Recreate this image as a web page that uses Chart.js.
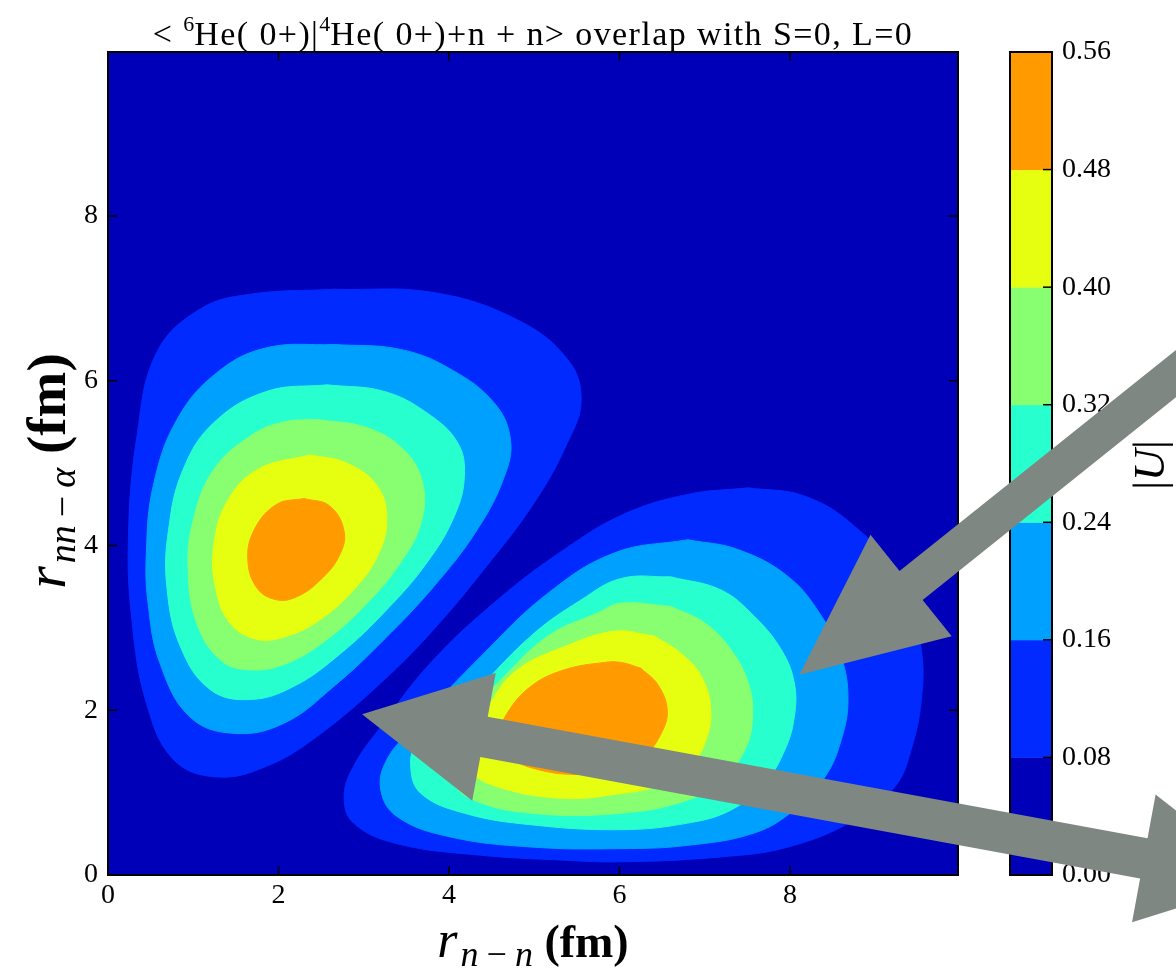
<!DOCTYPE html>
<html>
<head>
<meta charset="utf-8">
<script src="https://cdn.jsdelivr.net/npm/chart.js@4.4.1/dist/chart.umd.min.js"></script>
<style>
  html, body { margin: 0; padding: 0; background: #fff; }
</style>
</head>
<body>
<canvas id="myChart" width="1176" height="968"></canvas>
<script>
// contour levels of |U| and the jet colour of each filled band
const levels = [0.0, 0.08, 0.16, 0.24, 0.32, 0.4, 0.48, 0.56];
const bandColors = ["#0000b9", "#002aff", "#00a0ff", "#28ffcf", "#87ff70", "#e6ff11", "#ff9b00"];

const xTicks = [0, 2, 4, 6, 8];
const yTicks = [0, 2, 4, 6, 8];

// left lobe outlines [r_n-n, r_nn-alpha], one per level (0.08 ... 0.48)
const left08 = [[2.65, 7.11], [3.82, 7.07], [4.8, 6.74], [5.39, 6.26], [5.55, 5.77], [5.39, 5.25], [5.0, 4.52], [4.41, 3.71], [3.82, 2.98], [3.24, 2.37], [2.45, 1.68], [1.86, 1.32], [1.28, 1.19], [0.77, 1.4], [0.45, 2.09], [0.28, 3.1], [0.24, 4.11], [0.34, 5.33], [0.57, 6.34], [1.08, 6.87], [1.67, 7.05]];
const left16 = [[2.65, 6.44], [3.43, 6.38], [4.02, 6.14], [4.53, 5.73], [4.72, 5.29], [4.65, 4.84], [4.33, 4.19], [3.82, 3.5], [3.24, 2.86], [2.65, 2.29], [2.06, 1.84], [1.47, 1.72], [0.96, 1.92], [0.61, 2.57], [0.47, 3.3], [0.45, 3.91], [0.53, 4.72], [0.81, 5.53], [1.28, 6.1], [1.86, 6.4]];
const left24 = [[2.57, 5.95], [3.24, 5.87], [3.74, 5.61], [4.1, 5.25], [4.18, 4.84], [4.06, 4.35], [3.74, 3.79], [3.27, 3.22], [2.73, 2.69], [2.18, 2.29], [1.67, 2.13], [1.2, 2.25], [0.85, 2.77], [0.69, 3.5], [0.71, 4.19], [0.88, 4.92], [1.24, 5.49], [1.86, 5.87]];
const left32 = [[2.45, 5.53], [3.04, 5.43], [3.47, 5.16], [3.69, 4.76], [3.67, 4.27], [3.43, 3.79], [3.04, 3.3], [2.57, 2.86], [2.1, 2.57], [1.67, 2.49], [1.32, 2.61], [1.04, 3.06], [0.94, 3.71], [1.0, 4.31], [1.24, 4.92], [1.67, 5.33], [2.06, 5.5]];
const left40 = [[2.37, 5.1], [2.8, 5.0], [3.16, 4.72], [3.27, 4.31], [3.16, 3.87], [2.88, 3.46], [2.49, 3.1], [2.1, 2.9], [1.75, 2.86], [1.43, 3.06], [1.26, 3.5], [1.24, 3.99], [1.39, 4.52], [1.75, 4.92]];
const left48 = [[2.3, 4.57], [2.6, 4.48], [2.77, 4.17], [2.71, 3.87], [2.49, 3.58], [2.22, 3.38], [1.98, 3.34], [1.75, 3.48], [1.64, 3.83], [1.72, 4.2], [1.98, 4.5]];

// right lobe outlines
const right08 = [[7.51, 4.7], [8.17, 4.6], [8.76, 4.23], [9.35, 3.54], [9.54, 2.73], [9.54, 2.13], [9.42, 1.52], [9.23, 1.07], [8.76, 0.67], [7.98, 0.34], [7.19, 0.22], [6.02, 0.16], [5.35, 0.18], [4.37, 0.24], [3.39, 0.38], [2.88, 0.63], [2.77, 0.95], [2.88, 1.32], [3.2, 1.8], [3.78, 2.57], [4.57, 3.34], [5.35, 3.95], [6.05, 4.38], [6.8, 4.62]];
const right16 = [[6.8, 4.07], [7.39, 3.95], [7.98, 3.62], [8.37, 3.14], [8.6, 2.65], [8.68, 2.13], [8.6, 1.64], [8.41, 1.19], [8.05, 0.79], [7.58, 0.51], [6.8, 0.36], [6.02, 0.32], [4.96, 0.34], [3.98, 0.47], [3.39, 0.71], [3.2, 1.03], [3.27, 1.4], [3.59, 1.8], [4.37, 2.65], [5.16, 3.42], [5.94, 3.91]];
const right24 = [[6.6, 3.62], [7.19, 3.46], [7.58, 3.14], [7.9, 2.73], [8.05, 2.33], [8.05, 1.92], [7.94, 1.52], [7.7, 1.11], [7.31, 0.79], [6.8, 0.63], [6.02, 0.55], [4.96, 0.61], [4.18, 0.75], [3.67, 0.99], [3.55, 1.32], [3.63, 1.6], [4.18, 2.09], [4.96, 2.9], [5.55, 3.34], [6.02, 3.6]];
const right32 = [[6.6, 3.26], [7.0, 3.06], [7.31, 2.73], [7.51, 2.33], [7.56, 1.92], [7.47, 1.52], [7.19, 1.15], [6.8, 0.91], [6.02, 0.75], [4.96, 0.75], [4.29, 0.91], [4.02, 1.15], [3.9, 1.52], [4.18, 1.92], [4.57, 2.33], [5.16, 2.9], [5.74, 3.18], [6.02, 3.3]];
const right40 = [[6.41, 2.9], [6.72, 2.69], [6.96, 2.41], [7.07, 2.0], [7.0, 1.6], [6.8, 1.28], [6.41, 1.07], [6.02, 0.99], [5.35, 0.93], [4.57, 1.07], [4.25, 1.28], [4.29, 1.6], [4.49, 2.09], [4.8, 2.49], [5.35, 2.77], [5.94, 2.96]];
const right48 = [[6.25, 2.51], [6.45, 2.31], [6.56, 2.0], [6.49, 1.72], [6.29, 1.44], [6.02, 1.28], [5.55, 1.22], [5.04, 1.28], [4.72, 1.44], [4.61, 1.72], [4.68, 1.96], [4.96, 2.29], [5.35, 2.49], [5.82, 2.58], [6.02, 2.58]];

// [outline, band index]
const contours = [
  [left08, 1], [left16, 2], [left24, 3], [left32, 4], [left40, 5], [left48, 6],
  [right08, 1], [right16, 2], [right24, 3], [right32, 4], [right40, 5], [right48, 6],
];

// grey arrows drawn over the figure, [from, to] in plot units
const arrowOne = [[13.51, 6.9], [8.11, 2.43]];
const arrowTwo = [[13.58, -0.07], [2.98, 1.95]];

const serif = "'Liberation Serif', 'Times New Roman', serif";

const contourDatasets = contours.map(([pts, band]) => ({
  data: pts.concat([pts[0]]).map(([x, y]) => ({ x, y })),
  backgroundColor: bandColors[band],
  borderColor: bandColors[band],
  borderWidth: 1,
  pointRadius: 0,
  tension: 0.4,
  fill: "shape",
  order: 10 - band,
}));

// write a list of text pieces centred on cx (pre/post = extra room around a piece)
const drawRuns = (ctx, runs, cx, baseY) => {
  const widthOf = (r) => {
    ctx.font = r.font;
    ctx.letterSpacing = r.gap || "0px";
    return ctx.measureText(r.text).width + (r.pre || 0) + (r.post || 0);
  };
  const total = runs.reduce((s, r) => s + widthOf(r), 0);
  let x = cx - total / 2;
  runs.forEach((r) => {
    const w = widthOf(r);
    ctx.fillText(r.text, x + (r.pre || 0), baseY + (r.dy || 0));
    x += w;
  });
  ctx.letterSpacing = "0px";
};

const drawArrow = (ctx, p0, p1, shaft, headLen, headHalf, both) => {
  const dx = p1[0] - p0[0], dy = p1[1] - p0[1];
  const len = Math.hypot(dx, dy);
  const ux = dx / len, uy = dy / len, nx = -uy, ny = ux;
  const at = (p, along, side) => [p[0] + ux * along + nx * side, p[1] + uy * along + ny * side];
  let pts = [];
  if (both) {
    pts.push(p0, at(p0, headLen, headHalf), at(p0, headLen, shaft / 2));
  } else {
    pts.push(at(p0, 0, shaft / 2));
  }
  pts.push(at(p1, -headLen, shaft / 2), at(p1, -headLen, headHalf), p1,
    at(p1, -headLen, -headHalf), at(p1, -headLen, -shaft / 2));
  if (both) {
    pts.push(at(p0, headLen, -shaft / 2), at(p0, headLen, -headHalf));
  } else {
    pts.push(at(p0, 0, -shaft / 2));
  }
  ctx.beginPath();
  pts.forEach(([x, y], i) => (i ? ctx.lineTo(x, y) : ctx.moveTo(x, y)));
  ctx.closePath();
  ctx.fill();
};

const figurePlugin = {
  id: "figure",
  beforeDatasetsDraw(chart) {
    const { ctx, chartArea: a } = chart;
    ctx.save();
    ctx.fillStyle = bandColors[0];
    ctx.fillRect(a.left, a.top, a.right - a.left, a.bottom - a.top);
    ctx.restore();
  },
  afterDraw(chart) {
    const { ctx, chartArea: a } = chart;
    const xs = chart.scales.x, ys = chart.scales.y, cb = chart.scales.cb;
    ctx.save();

    // frame with inward ticks on all four sides
    ctx.strokeStyle = "#000";
    ctx.lineWidth = 1.5;
    xTicks.forEach((v) => {
      const px = xs.getPixelForValue(v);
      ctx.beginPath();
      ctx.moveTo(px, a.bottom); ctx.lineTo(px, a.bottom - 9);
      ctx.moveTo(px, a.top); ctx.lineTo(px, a.top + 9);
      ctx.stroke();
    });
    yTicks.forEach((v) => {
      const py = ys.getPixelForValue(v);
      ctx.beginPath();
      ctx.moveTo(a.left, py); ctx.lineTo(a.left + 9, py);
      ctx.moveTo(a.right, py); ctx.lineTo(a.right - 9, py);
      ctx.stroke();
    });
    ctx.lineWidth = 2;
    ctx.strokeRect(a.left, a.top, a.right - a.left, a.bottom - a.top);

    // colour bar
    const cbLeft = a.right + 52, cbW = 42;
    for (let i = 0; i < bandColors.length; i++) {
      const yTop = cb.getPixelForValue(levels[i + 1]);
      const yBot = cb.getPixelForValue(levels[i]);
      ctx.fillStyle = bandColors[i];
      ctx.fillRect(cbLeft, yTop, cbW, yBot - yTop + 0.5);
    }
    ctx.lineWidth = 1.5;
    levels.forEach((v) => {
      const py = cb.getPixelForValue(v);
      ctx.beginPath();
      ctx.moveTo(cbLeft + cbW, py); ctx.lineTo(cbLeft + cbW - 9, py);
      ctx.stroke();
    });
    ctx.lineWidth = 2;
    ctx.strokeRect(cbLeft, cb.top, cbW, cb.bottom - cb.top);

    // texts
    ctx.fillStyle = "#000";
    ctx.textAlign = "left";
    ctx.textBaseline = "alphabetic";
    const cx = (a.left + a.right) / 2;
    drawRuns(ctx, [
      { text: "< ", font: `34px ${serif}`, gap: "1.4px" },
      { text: "6", font: `22px ${serif}`, dy: -14 },
      { text: "He( 0+)|", font: `34px ${serif}`, gap: "1.4px" },
      { text: "4", font: `22px ${serif}`, dy: -14 },
      { text: "He( 0+)+n + n> overlap with S=0, L=0", font: `34px ${serif}`, gap: "1.4px" },
    ], cx, 45);

    drawRuns(ctx, [
      { text: "r", font: `italic 52px ${serif}`, post: 3 },
      { text: "n", font: `italic 36px ${serif}`, dy: 9 },
      { text: "−", font: `36px ${serif}`, dy: 9, pre: 8, post: 8 },
      { text: "n", font: `italic 36px ${serif}`, dy: 9 },
      { text: " (fm)", font: `bold 46px ${serif}` },
    ], cx, 957);

    ctx.save();
    ctx.translate(65, 471);
    ctx.rotate(-Math.PI / 2);
    drawRuns(ctx, [
      { text: "r", font: `italic 58px ${serif}`, post: 3 },
      { text: "nn", font: `italic 38px ${serif}`, dy: 10 },
      { text: "−", font: `38px ${serif}`, dy: 10, pre: 8, post: 8 },
      { text: "α", font: `italic 38px ${serif}`, dy: 10 },
      { text: " (fm)", font: `bold 55px ${serif}` },
    ], 0, 0);
    ctx.restore();

    ctx.save();
    ctx.translate(1164, 465);
    ctx.rotate(-Math.PI / 2);
    drawRuns(ctx, [
      { text: "|", font: `44px ${serif}` },
      { text: "U", font: `italic 44px ${serif}` },
      { text: "|", font: `44px ${serif}` },
    ], 0, 0);
    ctx.restore();

    // grey arrows on top
    ctx.fillStyle = "#7f8782";
    const toPx = ([x, y]) => [xs.getPixelForValue(x), ys.getPixelForValue(y)];
    drawArrow(ctx, toPx(arrowOne[0]), toPx(arrowOne[1]), 37, 143, 65, false);
    drawArrow(ctx, toPx(arrowTwo[0]), toPx(arrowTwo[1]), 41, 124, 65, true);

    ctx.restore();
  },
};

const tickFont = { family: serif, size: 28 };

// keep label padding of the vertical axes out of the layout margins
const noPad = (s) => { s.paddingTop = 0; s.paddingBottom = 0; };

new Chart(document.getElementById("myChart"), {
  type: "line",
  data: { datasets: contourDatasets },
  options: {
    responsive: false,
    animation: false,
    events: [],
    layout: { padding: { top: 52, left: 0, right: 0, bottom: 0 } },
    plugins: {
      legend: { display: false },
      tooltip: { enabled: false },
    },
    scales: {
      x: {
        type: "linear",
        min: 0,
        max: 9.97,
        afterBuildTicks: (s) => { s.ticks = xTicks.map((v) => ({ value: v })); },
        afterFit: (s) => { s.height = 93; },
        grid: { display: false, drawTicks: false },
        border: { display: false },
        ticks: { font: tickFont, color: "#000", padding: 4, maxRotation: 0, callback: (v) => String(v) },
      },
      y: {
        type: "linear",
        min: 0,
        max: 9.99,
        afterBuildTicks: (s) => { s.ticks = yTicks.map((v) => ({ value: v })); },
        afterFit: (s) => { s.width = 108; noPad(s); },
        grid: { display: false, drawTicks: false },
        border: { display: false },
        ticks: { font: tickFont, color: "#000", padding: 10, callback: (v) => String(v) },
      },
      cb: {
        type: "linear",
        position: "right",
        min: 0,
        max: 0.56,
        afterBuildTicks: (s) => { s.ticks = levels.map((v) => ({ value: v })); },
        afterFit: (s) => { s.width = 218; noPad(s); },
        grid: { display: false, drawTicks: false },
        border: { display: false },
        ticks: { font: tickFont, color: "#000", padding: 104, callback: (v) => v.toFixed(2) },
      },
    },
  },
  plugins: [figurePlugin],
});
</script>
</body>
</html>
